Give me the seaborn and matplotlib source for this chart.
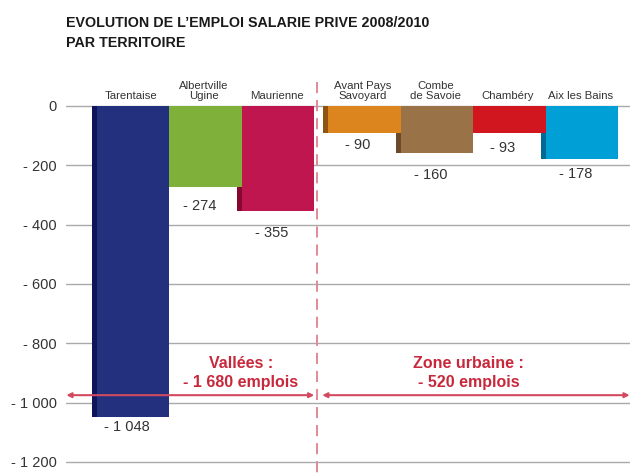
import matplotlib
matplotlib.use("Agg")
import matplotlib.pyplot as plt
import seaborn as sns
import pandas as pd

# ---- data ----
territories = ["Tarentaise", "Albertville\nUgine", "Maurienne",
               "Avant Pays\nSavoyard", "Combe\nde Savoie", "Chambéry", "Aix les Bains"]
groups = ["Vallées", "Vallées", "Vallées",
          "Zone urbaine", "Zone urbaine", "Zone urbaine", "Zone urbaine"]
change = [-1048, -274, -355, -90, -160, -93, -178]
value_labels = ["- 1 048", "- 274", "- 355", "- 90", "- 160", "- 93", "- 178"]
y_ticks = [0, -200, -400, -600, -800, -1000, -1200]
y_tick_labels = ["0", "- 200", "- 400", "- 600", "- 800", "- 1 000", "- 1 200"]
group_names = ["Vallées", "Zone urbaine"]
group_totals = ["Vallées :\n- 1 680 emplois", "Zone urbaine :\n- 520 emplois"]
title = "EVOLUTION DE L\u2019EMPLOI SALARIE PRIVE 2008/2010\nPAR TERRITOIRE"

# ---- styles ----
bar_colors = ["#22307e", "#7fb03a", "#c0164f", "#dc841e", "#9a7248", "#d1161f", "#00a0d6"]
shadow_colors = ["#10145a", "#4f7a20", "#86082f", "#8e5410", "#6a4a2a", "#8a0c12", "#006b92"]
label_dy = [34, 62, 73, 41, 72, 50, 52]
group_gap = 0.19
shadow_shift = 0.069
text_color = "#333333"
accent = "#c8283c"
arrow_color = "#d24a60"
dash_color = "#e08a96"

sns.set_theme(style="white")
plt.rcParams["font.family"] = ["Liberation Sans", "DejaVu Sans"]
plt.rcParams["lines.scale_dashes"] = False

grp_index = [group_names.index(g) for g in groups]
pos = [i + group_gap * g for i, g in enumerate(grp_index)]
df = pd.DataFrame({"territory": territories, "group": groups, "change": change, "pos": pos})
df_sh = df.assign(pos=[p - shadow_shift for p in pos])

fig = plt.figure(figsize=(6.3, 4.75), dpi=100)
ax = fig.add_axes([66 / 630, 0, 564 / 630, 400 / 475])

sns.barplot(data=df_sh, x="pos", y="change", hue="territory",
            palette=dict(zip(territories, shadow_colors)), native_scale=True,
            width=1.0, dodge=False, legend=False, saturation=1, linewidth=0,
            ax=ax, zorder=2)
sns.barplot(data=df, x="pos", y="change", hue="territory",
            palette=dict(zip(territories, bar_colors)), native_scale=True,
            width=1.0, dodge=False, legend=False, saturation=1, linewidth=0,
            ax=ax, zorder=3)

xmin, xmax = pos[0] - 0.924, pos[0] + 6.855
ax.set_xlim(xmin, xmax)
ax.set_ylim(-1244, 104)
ax.set_xticks([])
ax.set_yticks(y_ticks)
ax.set_yticklabels(y_tick_labels, fontsize=10.5, color=text_color)
ax.tick_params(axis="y", length=0, pad=6.5)
ax.yaxis.grid(True, color="#a9a9a9", lw=1.0)
ax.set_axisbelow(True)
ax.set_xlabel("")
ax.set_ylabel("")
for s in ax.spines.values():
    s.set_visible(False)

# category names above bars
for p, name in zip(pos, territories):
    ax.text(p - 0.02, 17, name, ha="center", va="bottom", fontsize=8.2,
            color=text_color, linespacing=0.95, zorder=5)

# value labels under bars
for p, v, lab, dy in zip(pos, change, value_labels, label_dy):
    ax.text(p - 0.085, v - dy, lab, ha="center", va="center", fontsize=10.5,
            color=text_color, zorder=5)

# divider
divider = pos[2] + 0.54
ax.plot([divider, divider], [81, -1244], color=dash_color, lw=1.4,
        linestyle=(0, (8, 5)), zorder=1, clip_on=False)

# arrows
arrow_y = -975
for x0, x1 in [(xmin + 0.005, divider - 0.04), (divider + 0.07, xmax - 0.005)]:
    ax.annotate("", xy=(x1, arrow_y), xytext=(x0, arrow_y),
                arrowprops=dict(arrowstyle="<|-|>", color=arrow_color, lw=1.5,
                                mutation_scale=7, shrinkA=0, shrinkB=0),
                zorder=4)

# group totals
text_x = [1.49, 4.63]
for tx, t in zip(text_x, group_totals):
    ax.text(tx, -900, t, ha="center", va="center", fontsize=11.5,
            fontweight="bold", color=accent, linespacing=1.3, zorder=5)

fig.text(66 / 630, 1 - 33 / 475, title, ha="left", va="center", fontsize=10.3,
         fontweight="bold", color="#1a1a1a", linespacing=1.6)

fig.savefig("out.png", dpi=100)
